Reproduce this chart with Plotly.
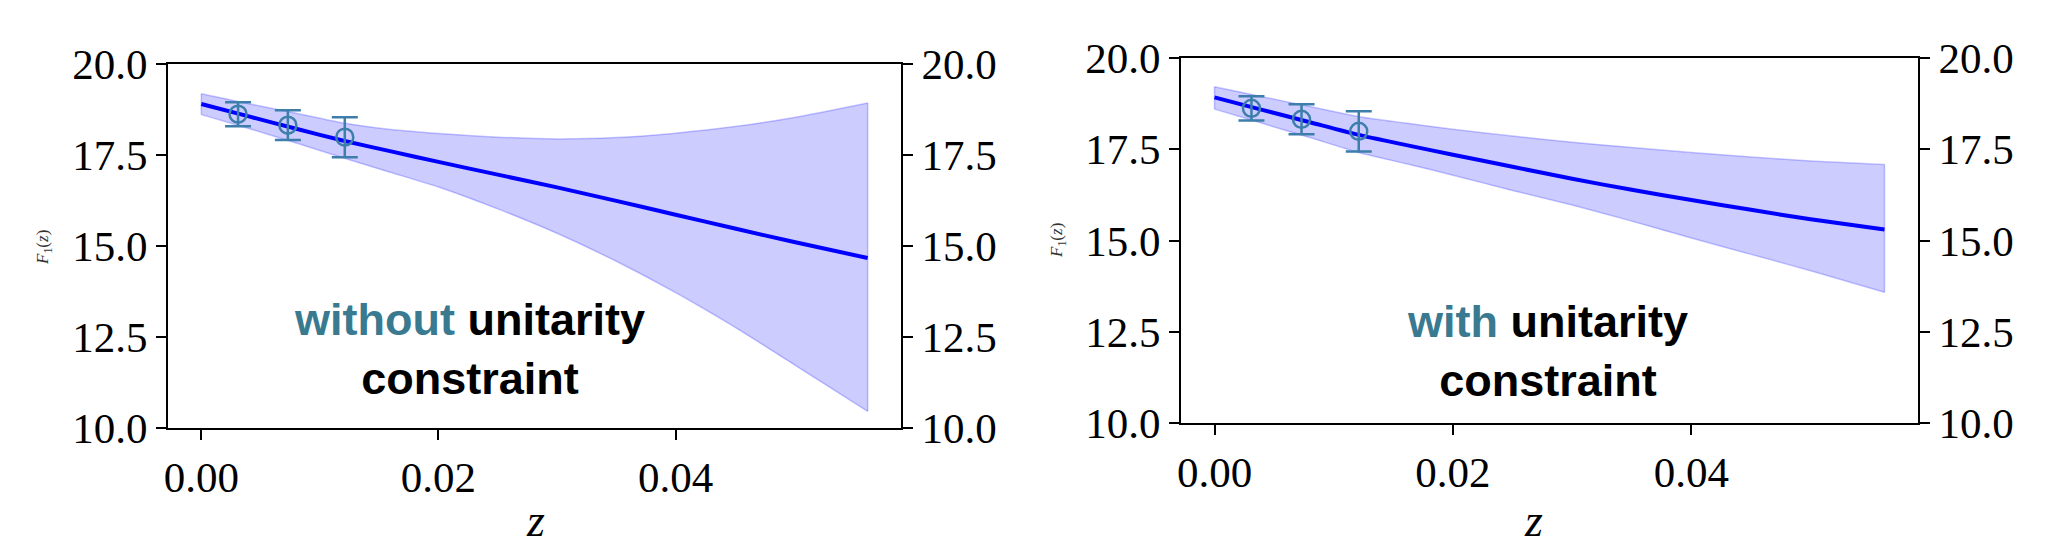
import plotly.graph_objects as go

# ---- data ----
z_grid = [0.0, 0.004, 0.008, 0.012, 0.016, 0.020, 0.025, 0.030, 0.035, 0.040, 0.045, 0.050, 0.0562]

# without unitarity constraint
wo_center = [18.90, 18.56, 18.22, 17.89, 17.60, 17.31, 16.96, 16.61, 16.24, 15.86, 15.48, 15.11, 14.67]
wo_upper = [19.18, 18.91, 18.65, 18.38, 18.20, 18.09, 17.99, 17.94, 17.98, 18.10, 18.28, 18.53, 18.93]
wo_lower = [18.61, 18.23, 17.83, 17.42, 17.02, 16.62, 16.02, 15.35, 14.58, 13.72, 12.77, 11.74, 10.46]

# with unitarity constraint
w_center = [18.92, 18.58, 18.24, 17.90, 17.62, 17.35, 17.02, 16.69, 16.39, 16.11, 15.84, 15.58, 15.30]
w_upper = [19.21, 18.94, 18.67, 18.40, 18.22, 18.05, 17.86, 17.69, 17.55, 17.41, 17.29, 17.18, 17.08]
w_lower = [18.60, 18.21, 17.82, 17.42, 17.11, 16.79, 16.37, 15.97, 15.53, 15.07, 14.62, 14.17, 13.58]

# lattice data points
z_data = [0.0031, 0.0073, 0.0121]
f_data = [18.62, 18.32, 17.99]
f_err = [0.33, 0.41, 0.55]

x_ticks = [0.0, 0.02, 0.04]
y_ticks = [10.0, 12.5, 15.0, 17.5, 20.0]
x_range = [-0.00281, 0.05901]
y_range = [10.0, 20.0]

panels = [
    dict(center=wo_center, upper=wo_upper, lower=wo_lower, first="without"),
    dict(center=w_center, upper=w_upper, lower=w_lower, first="with"),
]

W, H = 2050, 554
# axes pixel boxes (left, right, top, bottom)
boxes = [(160, 893, 56, 420), (1173, 1910, 50, 415)]

BAND = "rgba(0,0,255,0.2)"
BAND_EDGE = "rgba(0,0,255,0.22)"
LINE = "#0000ff"
ERR = "#3d7eaa"
TEAL = "#3a7a90"
SERIF = "Liberation Serif"
SANS = "Liberation Sans"

fig = go.Figure()
layout = dict(
    width=W, height=H, margin=dict(l=0, r=0, t=0, b=0, autoexpand=False),
    paper_bgcolor="white", plot_bgcolor="white", showlegend=False,
    template="none",
)
annotations = []

for i, (p, box) in enumerate(zip(panels, boxes)):
    L, R, T, B = box
    xa = "x" if i == 0 else "x2"
    ya = "y" if i == 0 else "y3"
    ya_r = "y2" if i == 0 else "y4"
    xkey = "xaxis" if i == 0 else "xaxis2"
    ykey = "yaxis" if i == 0 else "yaxis3"
    yrkey = "yaxis2" if i == 0 else "yaxis4"

    # band: lower edge, then upper edge filled to lower
    fig.add_trace(go.Scatter(x=z_grid, y=p["lower"], xaxis=xa, yaxis=ya, mode="lines",
                             line=dict(color=BAND_EDGE, width=1.5, shape="spline", smoothing=0.6),
                             hoverinfo="skip"))
    fig.add_trace(go.Scatter(x=z_grid, y=p["upper"], xaxis=xa, yaxis=ya, mode="lines",
                             fill="tonexty", fillcolor=BAND,
                             line=dict(color=BAND_EDGE, width=1.5, shape="spline", smoothing=0.6),
                             hoverinfo="skip"))
    # vertical end edges of the band
    for k in (0, -1):
        fig.add_trace(go.Scatter(x=[z_grid[k], z_grid[k]], y=[p["lower"][k], p["upper"][k]],
                                 xaxis=xa, yaxis=ya, mode="lines",
                                 line=dict(color=BAND_EDGE, width=1.5), hoverinfo="skip"))
    fig.add_trace(go.Scatter(x=z_grid, y=p["center"], xaxis=xa, yaxis=ya, mode="lines",
                             line=dict(color=LINE, width=4, shape="spline", smoothing=0.6),
                             hoverinfo="skip"))
    fig.add_trace(go.Scatter(x=z_data, y=f_data, xaxis=xa, yaxis=ya, mode="markers",
                             marker=dict(symbol="circle-open", size=17, color=ERR,
                                         line=dict(width=2.5, color=ERR)),
                             error_y=dict(type="data", array=f_err, visible=True,
                                          color=ERR, thickness=2.5, width=13)))
    # invisible trace on right axis so it renders
    fig.add_trace(go.Scatter(x=[z_grid[0]], y=[p["center"][0]], xaxis=xa, yaxis=ya_r,
                             mode="markers", marker=dict(opacity=0), hoverinfo="skip"))

    xdom = [L / W, R / W]
    ydom = [(H - B) / H, (H - T) / H]
    common = dict(showline=True, linecolor="black", linewidth=2,
                  ticks="outside", ticklen=10, tickwidth=2, tickcolor="black",
                  showgrid=False, zeroline=False, automargin=False,
                  tickfont=dict(family=SERIF, size=43, color="black"))
    layout[xkey] = dict(domain=xdom, range=x_range, tickvals=x_ticks, tickformat=".2f",
                        anchor=ya, mirror=True, **common)
    layout[ykey] = dict(domain=ydom, range=y_range, tickvals=y_ticks, tickformat=".1f",
                        anchor=xa, **common)
    layout[yrkey] = dict(domain=ydom, range=y_range, tickvals=y_ticks, tickformat=".1f",
                         anchor=xa, overlaying=ya, side="right", **common)

    # annotation text
    annotations.append(dict(
        xref="paper", yref="paper",
        x=(461 if i == 0 else 1539) / W, y=(H - (341 if i == 0 else 343)) / H,
        xanchor="center", yanchor="middle", showarrow=False, align="center",
        text=f'<b><span style="color:{TEAL}">{p["first"]}</span> unitarity<br>constraint</b>',
        font=dict(family=SANS, size=45, color="black"),
    ))
    # x axis label
    annotations.append(dict(
        xref="paper", yref="paper",
        x=(527 if i == 0 else 1525) / W, y=(H - 512) / H,
        xanchor="center", yanchor="middle", showarrow=False,
        text="<i>z</i>", font=dict(family=SERIF, size=46, color="black"),
    ))
    # y axis label
    annotations.append(dict(
        xref="paper", yref="paper",
        x=(36 if i == 0 else 1050) / W, y=(H - (240 if i == 0 else 233)) / H,
        xanchor="center", yanchor="middle", showarrow=False, textangle=-90,
        text="<i>F</i><sub>1</sub>(<i>z</i>)", font=dict(family=SERIF, size=17, color="#333333"),
    ))

layout["annotations"] = annotations
fig.update_layout(**layout)
fig.write_html("out.html")
